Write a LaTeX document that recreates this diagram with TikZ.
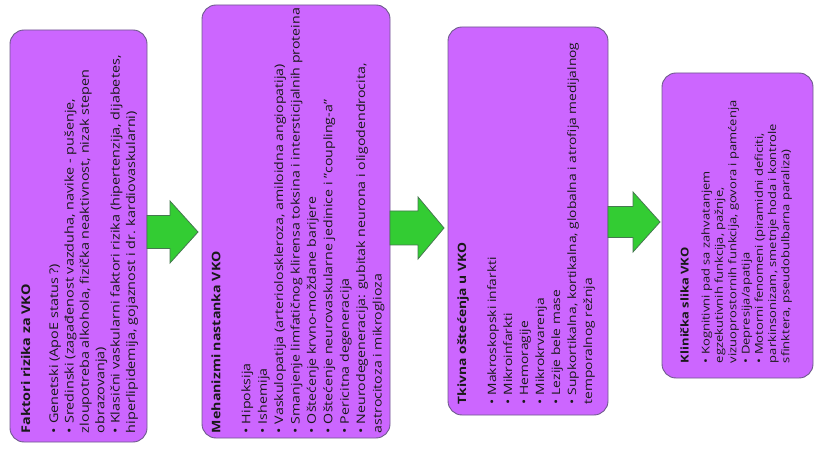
\documentclass[tikz,border=0pt]{standalone}
\usepackage{fontspec}
\setmainfont{Open Sans}[FakeStretch=1.2]
\usetikzlibrary{calc}
\definecolor{boxfill}{RGB}{204,102,255}
\definecolor{boxline}{RGB}{110,90,140}
\definecolor{arrfill}{RGB}{51,204,51}
\definecolor{arrline}{RGB}{70,120,80}
\begin{document}
\begin{tikzpicture}[x=1pt,y=1pt,
  vbox/.style={draw=boxline, fill=boxfill, line width=0.9pt, rounded corners=14pt, inner sep=0pt, outer sep=0pt},
  vtext/.style={rotate=90, anchor=north west, align=left, inner sep=0pt, outer sep=0pt, text=black!90},
  garrow/.style={draw=arrline, fill=arrfill, line width=0.8pt, line join=miter}]
\useasboundingbox (0,0) rectangle (818,455);

% boxes
\node[vbox, minimum width=137pt, minimum height=412pt] (b1) at (78.5,219) {};
\node[vbox, minimum width=188pt, minimum height=433pt] (b2) at (296,233.5) {};
\node[vbox, minimum width=160pt, minimum height=388pt] (b3) at (528,234) {};
\node[vbox, minimum width=151pt, minimum height=305pt] (b4) at (737.5,229.5) {};

% texts
\node[vtext, font=\fontsize{12}{15.4}\selectfont] (t1) at ($(b1.south west)+(11,9)$)
 {\textbf{Faktori rizika za VKO}\\[12.6pt]
  • Genetski (ApoE status ?)\\
  • Sredinski (zagađenost vazduha, navike - pušenje,\\
  zloupotreba alkohola, fizička neaktivnost, nizak stepen\\
  obrazovanja)\\
  • Klasični vaskularni faktori rizika (hipertenzija, dijabetes,\\
  hiperlipidemija, gojaznost i dr. kardiovaskularni)};

\node[vtext, font=\fontsize{11.8}{16.4}\selectfont] (t2) at ($(b2.south west)+(9.4,5)$)
 {\textbf{Mehanizmi nastanka VKO}\\[13.6pt]
  • Hipoksija\\
  • Ishemija\\
  • Vaskulopatija (arterioloskleroza, amiloidna angiopatija)\\
  • Smanjenje limfatičnog klirensa toksina i intersticijalnih proteina\\
  • Oštećenje krvno-moždane barijere\\
  • Oštećenje neurovaskularne jedinice i "coupling-a"\\
  • Pericitna degeneracija\\
  • Neurodegeneracija: gubitak neurona i oligodendrocita,\\
  astrocitoza i mikroglioza};

\node[vtext, font=\fontsize{11.5}{16}\selectfont] (t3) at ($(b3.south west)+(9.4,11)$)
 {\textbf{Tkivna oštećenja u VKO}\\[14pt]
  • Makroskopski infarkti\\
  • Mikroinfarkti\\
  • Hemoragije\\
  • Mikrokrvarenja\\
  • Lezije bele mase\\
  • Supkortikalna, kortikalna, globalna i atrofija medijalnog\\
  temporalnog režnja};

\node[vtext, font=\fontsize{10.8}{13.3}\selectfont] (t4) at ($(b4.south west)+(18.4,15)$)
 {\textbf{Klinička slika VKO}\\[7.7pt]
  • Kognitivni pad sa zahvatanjem\\
  egzekutivnih funkcija, pažnje,\\
  vizuoprostornih funkcija, govora i pamćenja\\
  • Depresija/apatija\\
  • Motorni fenomeni (piramidni deficiti,\\
  parkinsonizam, smetnje hoda i kontrole\\
  sfinktera, pseudobulbarna paraliza)};

% block arrows
\draw[garrow] (b1.east |- 0,239.5) -- (170,239.5) -- (170,254) -- ($(b2.west |- 0,223)+(-4,0)$)
  -- (170,192) -- (170,206.5) -- (b1.east |- 0,206.5) -- cycle;
\draw[garrow] (b2.east |- 0,244) -- (418,244) -- (418,258) -- ($(b3.west |- 0,227)+(-4,0)$)
  -- (418,196) -- (418,210) -- (b2.east |- 0,210) -- cycle;
\draw[garrow] (b3.east |- 0,248.5) -- (633,248.5) -- (633,263) -- ($(b4.west |- 0,233)+(-2,0)$)
  -- (633,203) -- (633,217.5) -- (b3.east |- 0,217.5) -- cycle;
\end{tikzpicture}
\end{document}
